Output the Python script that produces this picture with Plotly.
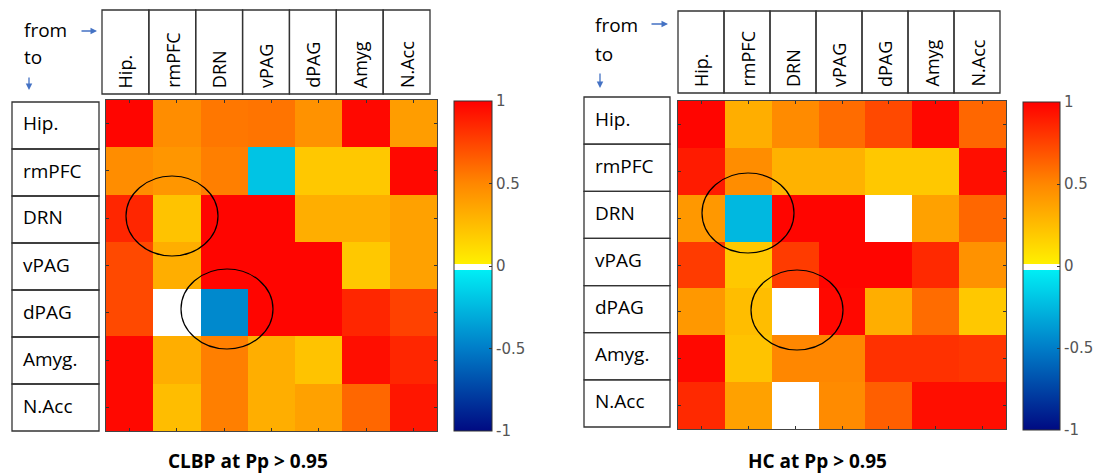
import plotly.graph_objects as go

W, H = 1105, 476

regions = ["Hip.", "rmPFC", "DRN", "vPAG", "dPAG", "Amyg", "N.Acc"]
row_labels = ["Hip.", "rmPFC", "DRN", "vPAG", "dPAG", "Amyg.", "N.Acc"]

# rows = "to", columns = "from"
clbp_hip = [0.98, 0.47, 0.56, 0.57, 0.45, 0.97, 0.40]
clbp_rmpfc = [0.47, 0.43, 0.53, -0.20, 0.20, 0.20, 0.97]
clbp_drn = [0.86, 0.22, 0.98, 0.98, 0.32, 0.32, 0.38]
clbp_vpag = [0.73, 0.32, 0.98, 0.98, 0.98, 0.20, 0.38]
clbp_dpag = [0.73, 0.0, -0.45, 0.98, 0.98, 0.86, 0.76]
clbp_amyg = [0.97, 0.32, 0.53, 0.32, 0.22, 0.95, 0.86]
clbp_nacc = [0.97, 0.25, 0.53, 0.32, 0.38, 0.62, 0.92]

hc_hip = [0.98, 0.32, 0.48, 0.60, 0.73, 0.97, 0.62]
hc_rmpfc = [0.90, 0.47, 0.30, 0.30, 0.20, 0.20, 0.95]
hc_drn = [0.42, -0.25, 0.98, 0.98, 0.0, 0.38, 0.62]
hc_vpag = [0.78, 0.20, 0.78, 0.98, 0.98, 0.85, 0.45]
hc_dpag = [0.42, 0.25, 0.0, 0.97, 0.32, 0.60, 0.20]
hc_amyg = [0.97, 0.22, 0.50, 0.50, 0.82, 0.82, 0.80]
hc_nacc = [0.85, 0.38, 0.0, 0.48, 0.65, 0.95, 0.95]

titles = ["CLBP at Pp > 0.95", "HC at Pp > 0.95"]
cb_ticks = [-1, -0.5, 0, 0.5, 1]
cb_text = ["-1", "-0.5", "0", "0.5", "1"]

clbp = [clbp_hip, clbp_rmpfc, clbp_drn, clbp_vpag, clbp_dpag, clbp_amyg, clbp_nacc]
hc = [hc_hip, hc_rmpfc, hc_drn, hc_vpag, hc_dpag, hc_amyg, hc_nacc]

colorscale = [
    [0.0, "rgb(0,10,130)"],
    [0.25, "rgb(0,125,200)"],
    [0.488, "rgb(0,238,245)"],
    [0.488, "rgb(255,255,255)"],
    [0.506, "rgb(255,255,255)"],
    [0.506, "rgb(255,240,0)"],
    [0.75, "rgb(255,135,0)"],
    [1.0, "rgb(255,0,0)"],
]


def px(x):
    return x / W


def py(y):
    return 1 - y / H


# panel geometry in pixels
panels = [
    dict(hm=(106, 437, 100, 431), colhdr=(102, 430, 10, 94), rowhdr=(12, 99, 102, 431),
         cb=(454, 492, 101, 431), frm=(22, 30), to=(22, 57),
         rarrow=(80, 97, 31), darrow=(29, 76, 90), title=(248, 461),
         ellipses=[(172, 216), (227, 309)]),
    dict(hm=(678, 1006, 101, 429), colhdr=(678, 1000, 11, 93), rowhdr=(584, 670, 97, 427),
         cb=(1023, 1060, 102, 430), frm=(593, 25), to=(593, 54),
         rarrow=(650, 668, 24), darrow=(600, 72, 88), title=(817, 461),
         ellipses=[(748, 213), (797, 310)]),
]

fig = go.Figure()
shapes = []
annotations = []
label_font = dict(family="Open Sans", size=18, color="black")
row_font = dict(family="Open Sans", size=19, color="black")

for i, (p, z) in enumerate(zip(panels, [clbp, hc])):
    ax = "" if i == 0 else "2"
    x0, x1, y0, y1 = p["hm"]
    cx0, cx1, cy0, cy1 = p["cb"]
    fig.add_trace(go.Heatmap(
        z=z, x=regions, y=row_labels, zmin=-1, zmax=1, colorscale=colorscale,
        xaxis="x" + ax, yaxis="y" + ax, hoverinfo="skip",
        colorbar=dict(
            x=px(cx0), xanchor="left", y=py((cy0 + cy1) / 2), yanchor="middle",
            len=(cy1 - cy0) / H, lenmode="fraction", thickness=cx1 - cx0,
            thicknessmode="pixels", xpad=0, ypad=0, outlinecolor="#333",
            outlinewidth=1, tickvals=cb_ticks, ticktext=cb_text, ticks="inside",
            ticklen=3, tickcolor="#333",
            tickfont=dict(family="DejaVu Sans", size=15, color="#555"),
        ),
    ))
    axis_common = dict(showticklabels=False, showgrid=False, zeroline=False,
                       showline=True, linecolor="#444", linewidth=1, mirror="ticks",
                       ticks="inside", ticklen=3, tickcolor="#333")
    fig.layout["xaxis" + ax] = dict(domain=[px(x0), px(x1)], anchor="y" + ax, **axis_common)
    fig.layout["yaxis" + ax] = dict(domain=[py(y1), py(y0)], anchor="x" + ax,
                                    autorange="reversed", **axis_common)

    # column header boxes
    hx0, hx1, hy0, hy1 = p["colhdr"]
    cw = (hx1 - hx0) / len(regions)
    for k, name in enumerate(regions):
        a = hx0 + k * cw
        shapes.append(dict(type="rect", xref="paper", yref="paper", x0=px(a), x1=px(a + cw),
                           y0=py(hy1), y1=py(hy0), line=dict(color="#333", width=1.3)))
        annotations.append(dict(text=name, textangle=-90, x=px(a + cw / 2), y=py(hy1 - 4),
                                xref="paper", yref="paper", xanchor="center", yanchor="bottom",
                                showarrow=False, font=label_font))
    # row header boxes
    rx0, rx1, ry0, ry1 = p["rowhdr"]
    rh = (ry1 - ry0) / len(row_labels)
    for k, name in enumerate(row_labels):
        b = ry0 + k * rh
        shapes.append(dict(type="rect", xref="paper", yref="paper", x0=px(rx0), x1=px(rx1),
                           y0=py(b + rh), y1=py(b), line=dict(color="#333", width=1.3)))
        annotations.append(dict(text=name, x=px(rx0 + 9), y=py(b + rh / 2 - 2),
                                xref="paper", yref="paper", xanchor="left", yanchor="middle",
                                showarrow=False, font=row_font))
    # from / to
    annotations.append(dict(text="from", x=px(p["frm"][0]), y=py(p["frm"][1]), xref="paper",
                            yref="paper", xanchor="left", yanchor="middle", showarrow=False,
                            font=row_font))
    annotations.append(dict(text="to", x=px(p["to"][0]), y=py(p["to"][1]), xref="paper",
                            yref="paper", xanchor="left", yanchor="middle", showarrow=False,
                            font=row_font))
    ra0, ra1, ray = p["rarrow"]
    annotations.append(dict(text="", x=px(ra1), y=py(ray), xref="paper", yref="paper",
                            ax=ra0 - ra1, ay=0, showarrow=True, arrowhead=2, arrowsize=1,
                            arrowwidth=1.3, arrowcolor="#4472C4"))
    dx, dy0, dy1 = p["darrow"]
    annotations.append(dict(text="", x=px(dx), y=py(dy1), xref="paper", yref="paper",
                            ax=0, ay=dy0 - dy1, showarrow=True, arrowhead=2, arrowsize=1,
                            arrowwidth=1.3, arrowcolor="#4472C4"))
    # title
    annotations.append(dict(text="<b>" + titles[i] + "</b>", x=px(p["title"][0]),
                            y=py(p["title"][1]), xref="paper", yref="paper",
                            xanchor="center", yanchor="middle", showarrow=False,
                            font=dict(family="Open Sans", size=19, color="black")))
    # ellipses
    for (ex, ey) in p["ellipses"]:
        shapes.append(dict(type="circle", xref="paper", yref="paper",
                           x0=px(ex - 46), x1=px(ex + 46), y0=py(ey + 40), y1=py(ey - 40),
                           line=dict(color="black", width=1.2)))

fig.update_layout(width=W, height=H, margin=dict(l=0, r=0, t=0, b=0),
                  paper_bgcolor="white", plot_bgcolor="white",
                  shapes=shapes, annotations=annotations, showlegend=False)

fig.write_html("out.html")
